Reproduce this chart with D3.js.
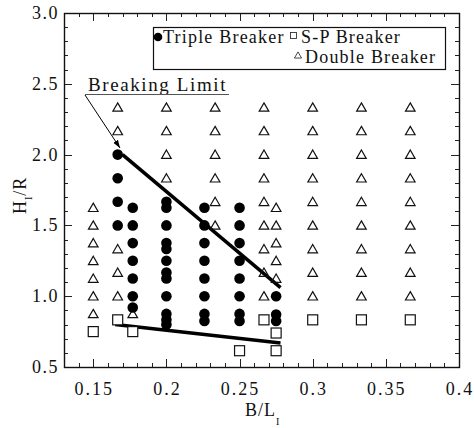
<!DOCTYPE html>
<html>
<head>
<meta charset="utf-8">
<script src="https://cdn.jsdelivr.net/npm/d3@7"></script>
<style>
  body { margin: 0; background: #fff; }
  text { font-family: "Liberation Serif", "Times New Roman", serif; fill: #111; }
</style>
</head>
<body>
<script>
// Data: [B/L, H/R]
var tripleBreaker = [
  [0.1667, 2.0], [0.1667, 1.833], [0.1667, 1.667], [0.1667, 1.5],
  [0.177, 1.625], [0.177, 1.5], [0.177, 1.375], [0.177, 1.25], [0.177, 1.125], [0.177, 1.0], [0.177, 0.92],
  [0.2, 1.667], [0.2, 1.625], [0.2, 1.5], [0.2, 1.375], [0.2, 1.333], [0.2, 1.25], [0.2, 1.167],
  [0.2, 1.125], [0.2, 1.0], [0.2, 0.875], [0.2, 0.833], [0.2, 0.8],
  [0.226, 1.625], [0.226, 1.5], [0.226, 1.375], [0.226, 1.25], [0.226, 1.125], [0.226, 1.0], [0.226, 0.875], [0.226, 0.825],
  [0.25, 1.625], [0.25, 1.5], [0.25, 1.375], [0.25, 1.25], [0.25, 1.125], [0.25, 1.0], [0.25, 0.875], [0.25, 0.825],
  [0.275, 1.0], [0.275, 0.87], [0.275, 0.825]
];

var spBreaker = [
  [0.15, 0.75], [0.1667, 0.833], [0.177, 0.75], [0.25, 0.615], [0.2667, 0.833],
  [0.275, 0.74], [0.275, 0.615], [0.3, 0.833], [0.3333, 0.833], [0.3667, 0.833]
];

var doubleBreaker = [
  [0.15, 1.625], [0.15, 1.5], [0.15, 1.375], [0.15, 1.25], [0.15, 1.125], [0.15, 1.0], [0.15, 0.875],
  [0.1667, 2.333], [0.1667, 2.167], [0.1667, 1.333], [0.1667, 1.167], [0.1667, 1.0],
  [0.177, 0.875],
  [0.2, 2.333], [0.2, 2.167], [0.2, 2.0], [0.2, 1.833],
  [0.2333, 2.333], [0.2333, 2.167], [0.2333, 2.0], [0.2333, 1.833], [0.2333, 1.667], [0.2333, 1.5],
  [0.2667, 2.333], [0.2667, 2.167], [0.2667, 2.0], [0.2667, 1.833], [0.2667, 1.667], [0.2667, 1.5],
  [0.2667, 1.333], [0.2667, 1.167], [0.2667, 1.0],
  [0.275, 1.625], [0.275, 1.5], [0.275, 1.375], [0.275, 1.25], [0.275, 1.125],
  [0.3, 2.333], [0.3, 2.167], [0.3, 2.0], [0.3, 1.833], [0.3, 1.667], [0.3, 1.5], [0.3, 1.333], [0.3, 1.167], [0.3, 1.0],
  [0.3333, 2.333], [0.3333, 2.167], [0.3333, 2.0], [0.3333, 1.833], [0.3333, 1.667], [0.3333, 1.5], [0.3333, 1.333], [0.3333, 1.167], [0.3333, 1.0],
  [0.3667, 2.333], [0.3667, 2.167], [0.3667, 2.0], [0.3667, 1.833], [0.3667, 1.667], [0.3667, 1.5], [0.3667, 1.333], [0.3667, 1.167], [0.3667, 1.0]
];

// Limit lines
var upperLimit = [[0.170, 2.0], [0.278, 1.06]];
var lowerLimit = [[0.165, 0.80], [0.278, 0.67]];

// Tick values
var xMajor = [0.15, 0.2, 0.25, 0.3, 0.35, 0.4];
var xLabels = ["0.15", "0.2", "0.25", "0.3", "0.35", "0.4"];
var yMajor = [0.5, 1.0, 1.5, 2.0, 2.5, 3.0];
var yLabels = ["0.5", "1.0", "1.5", "2.0", "2.5", "3.0"];

// Set up the SVG
var W = 474, H = 428;
var margin = {left: 64, right: 15, top: 13, bottom: 61};
var pw = W - margin.left - margin.right, ph = H - margin.top - margin.bottom;

var svg = d3.select("body").append("svg")
    .attr("width", W)
    .attr("height", H);

var x = d3.scaleLinear().domain([0.13, 0.4]).range([margin.left, margin.left + pw]);
var y = d3.scaleLinear().domain([0.5, 3.0]).range([margin.top + ph, margin.top]);

// minor ticks every 0.01 / 0.1
var xMinor = d3.range(13, 41).map(function(d) { return d / 100; });
var yMinor = d3.range(5, 31).map(function(d) { return d / 10; });

function isMajor(v, list) {
  return list.some(function(m) { return Math.abs(m - v) < 1e-6; });
}

var tickG = svg.append("g").attr("stroke", "#222").attr("stroke-width", 1);
xMinor.forEach(function(v) {
  var len = isMajor(v, xMajor) ? 8 : 4;
  var px = Math.round(x(v)) + 0.5;
  tickG.append("line").attr("x1", px).attr("x2", px).attr("y1", y(0.5)).attr("y2", y(0.5) - len);
  tickG.append("line").attr("x1", px).attr("x2", px).attr("y1", y(3.0)).attr("y2", y(3.0) + len);
});
yMinor.forEach(function(v) {
  var len = isMajor(v, yMajor) ? 8 : 4;
  var py = Math.round(y(v)) + 0.5;
  tickG.append("line").attr("y1", py).attr("y2", py).attr("x1", x(0.13)).attr("x2", x(0.13) + len);
  tickG.append("line").attr("y1", py).attr("y2", py).attr("x1", x(0.4)).attr("x2", x(0.4) - len);
});

// frame
svg.append("rect")
   .attr("x", margin.left + 0.5).attr("y", margin.top + 0.5)
   .attr("width", pw).attr("height", ph)
   .attr("fill", "none").attr("stroke", "#111").attr("stroke-width", 1.4);

// tick labels (scanned figure has wide letter spacing)
svg.selectAll(".xlab")
   .data(xMajor)
   .enter().append("text")
   .attr("x", function(d) { return x(d) + 1; })
   .attr("y", 395)
   .attr("text-anchor", "middle")
   .style("font-size", "18px")
   .style("letter-spacing", "2px")
   .text(function(d, i) { return xLabels[i]; });

svg.selectAll(".ylab")
   .data(yMajor)
   .enter().append("text")
   .attr("x", 59)
   .attr("y", function(d) { return y(d) + 6; })
   .attr("text-anchor", "end")
   .style("font-size", "18px")
   .style("letter-spacing", "1.5px")
   .text(function(d, i) { return yLabels[i]; });

// axis titles
var xt = svg.append("text").attr("x", 245).attr("y", 416)
   .style("font-size", "18px").style("letter-spacing", "1px");
xt.append("tspan").text("B/L");
xt.append("tspan").attr("dy", 9).style("font-size", "10px").text("I");

var yt = svg.append("text")
   .attr("transform", "translate(26,214) rotate(-90)")
   .style("font-size", "18px").style("letter-spacing", "1px");
yt.append("tspan").text("H");
yt.append("tspan").attr("dy", 6).style("font-size", "10px").text("I");
yt.append("tspan").attr("dy", -6).text("/R");

// limit lines
var line = d3.line().x(function(d) { return x(d[0]); }).y(function(d) { return y(d[1]); });
svg.append("path").attr("d", line(upperLimit)).attr("stroke", "#000").attr("stroke-width", 3.5).attr("fill", "none");
svg.append("path").attr("d", line(lowerLimit)).attr("stroke", "#000").attr("stroke-width", 3.5).attr("fill", "none");

// markers
var tri = d3.symbol().type(d3.symbolTriangle).size(40);
svg.selectAll(".tri")
   .data(doubleBreaker)
   .enter().append("path")
   .attr("d", tri)
   .attr("transform", function(d) { return "translate(" + x(d[0]) + "," + (y(d[1]) + 1) + ")"; })
   .attr("fill", "none").attr("stroke", "#111").attr("stroke-width", 1.2);

svg.selectAll(".sq")
   .data(spBreaker)
   .enter().append("rect")
   .attr("x", function(d) { return x(d[0]) - 5; })
   .attr("y", function(d) { return y(d[1]) - 5; })
   .attr("width", 10).attr("height", 10)
   .attr("fill", "#fff").attr("stroke", "#111").attr("stroke-width", 1.2);

svg.selectAll(".dot")
   .data(tripleBreaker)
   .enter().append("circle")
   .attr("cx", function(d) { return x(d[0]); })
   .attr("cy", function(d) { return y(d[1]); })
   .attr("r", 5.3)
   .attr("fill", "#000");

// Breaking limit annotation
svg.append("text").attr("x", 88).attr("y", 91)
   .style("font-size", "19px").style("letter-spacing", "1.6px").text("Breaking Limit");
svg.append("line").attr("x1", 85).attr("x2", 229).attr("y1", 94.5).attr("y2", 94.5)
   .attr("stroke", "#555").attr("stroke-width", 1.2);
svg.append("defs").append("marker")
   .attr("id", "arr").attr("viewBox", "0 0 10 10").attr("refX", 10).attr("refY", 5)
   .attr("markerWidth", 8).attr("markerHeight", 8).attr("orient", "auto")
   .append("path").attr("d", "M0,1.5L10,5L0,8.5Z").attr("fill", "#000");
svg.append("line").attr("x1", 85).attr("y1", 95).attr("x2", 120).attr("y2", 148)
   .attr("stroke", "#000").attr("stroke-width", 1).attr("marker-end", "url(#arr)");

// legend
var lg = svg.append("g");
lg.append("rect").attr("x", 153.5).attr("y", 27.5).attr("width", 292).attr("height", 42)
  .attr("fill", "#fff").attr("stroke", "#111").attr("stroke-width", 1.2);
lg.append("circle").attr("cx", 158).attr("cy", 37).attr("r", 4.3).attr("fill", "#000");
lg.append("text").attr("x", 163).attr("y", 43).style("font-size", "18px").style("letter-spacing", "1.2px").text("Triple Breaker");
lg.append("rect").attr("x", 290.5).attr("y", 32.5).attr("width", 6).attr("height", 6)
  .attr("fill", "none").attr("stroke", "#333").attr("stroke-width", 0.9);
lg.append("text").attr("x", 301).attr("y", 43).style("font-size", "18px").style("letter-spacing", "1.2px").text("S-P Breaker");
lg.append("path").attr("d", d3.symbol().type(d3.symbolTriangle).size(22))
  .attr("transform", "translate(298,56)").attr("fill", "none").attr("stroke", "#333").attr("stroke-width", 0.9);
lg.append("text").attr("x", 305).attr("y", 63).style("font-size", "18px").style("letter-spacing", "1.2px").text("Double Breaker");
</script>
</body>
</html>
